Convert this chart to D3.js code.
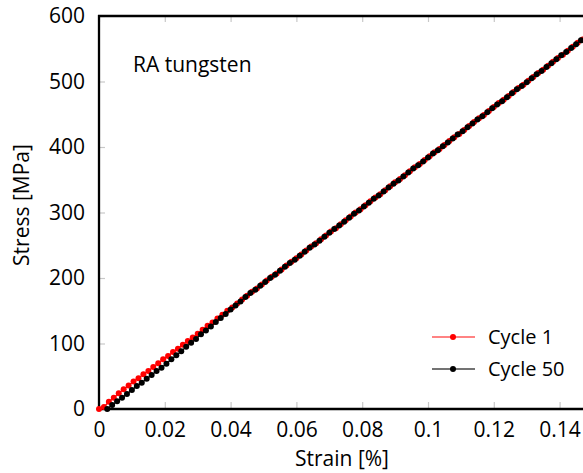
<!DOCTYPE html>
<html>
<head>
<meta charset="utf-8">
<script src="https://cdn.jsdelivr.net/npm/d3@7"></script>
<style>
  html, body { margin: 0; padding: 0; background: #fff; }
  svg { display: block; }
  text { font-family: "Open Sans", Lato, sans-serif; fill: #000; }
</style>
</head>
<body>
<svg id="chart" width="583" height="473"></svg>
<script>
// ---- data ----
const xTicks = [0, 0.02, 0.04, 0.06, 0.08, 0.1, 0.12, 0.14];
const yTicks = [0, 100, 200, 300, 400, 500, 600];
const seriesNames = ["Cycle 1", "Cycle 50"];

const strainCycle1 = [0, 0.0015, 0.003, 0.0045, 0.006, 0.0075, 0.009, 0.0105, 0.012, 0.0135,
  0.015, 0.0165, 0.018, 0.0195, 0.021, 0.0225, 0.024, 0.0255, 0.027, 0.0285,
  0.03, 0.0315, 0.033, 0.0345, 0.036, 0.0375, 0.039, 0.0405, 0.042, 0.0435,
  0.045, 0.0465, 0.048, 0.0495, 0.051, 0.0525, 0.054, 0.0555, 0.057, 0.0585,
  0.06, 0.0615, 0.063, 0.0645, 0.066, 0.0675, 0.069, 0.0705, 0.072, 0.0735,
  0.075, 0.0765, 0.078, 0.0795, 0.081, 0.0825, 0.084, 0.0855, 0.087, 0.0885,
  0.09, 0.0915, 0.093, 0.0945, 0.096, 0.0975, 0.099, 0.1005, 0.102, 0.1035,
  0.105, 0.1065, 0.108, 0.1095, 0.111, 0.1125, 0.114, 0.1155, 0.117, 0.1185,
  0.12, 0.1215, 0.123, 0.1245, 0.126, 0.1275, 0.129, 0.1305, 0.132, 0.1335,
  0.135, 0.1365, 0.138, 0.1395, 0.141, 0.1425, 0.144, 0.1455, 0.147, 0.1485];
const stressCycle1 = [0, 3, 11, 17, 24, 30, 36, 42, 47, 53,
  58, 64, 70, 76, 81, 87, 92, 98, 104, 109,
  115, 121, 127, 132, 138, 144, 150, 155, 161, 167,
  173, 179, 184, 190, 196, 202, 207, 213, 219, 225,
  230, 236, 242, 248, 253, 259, 265, 271, 276, 282,
  288, 294, 300, 305, 311, 317, 323, 328, 334, 340,
  346, 351, 357, 363, 369, 374, 380, 386, 392, 397,
  403, 409, 415, 420, 426, 432, 438, 444, 449, 455,
  461, 467, 472, 478, 484, 490, 495, 501, 507, 513,
  518, 524, 530, 536, 541, 547, 553, 559, 564, 570];

const strainCycle50 = [0.0025, 0.004, 0.0055, 0.007, 0.0085, 0.01, 0.0115, 0.013, 0.0145, 0.016,
  0.0175, 0.019, 0.0205, 0.022, 0.0235, 0.025, 0.0265, 0.028, 0.0295, 0.031,
  0.0325, 0.034, 0.0355, 0.037, 0.0385, 0.04, 0.0415, 0.043, 0.0445, 0.046,
  0.0475, 0.049, 0.0505, 0.052, 0.0535, 0.055, 0.0565, 0.058, 0.0595, 0.061,
  0.0625, 0.064, 0.0655, 0.067, 0.0685, 0.07, 0.0715, 0.073, 0.0745, 0.076,
  0.0775, 0.079, 0.0805, 0.082, 0.0835, 0.085, 0.0865, 0.088, 0.0895, 0.091,
  0.0925, 0.094, 0.0955, 0.097, 0.0985, 0.1, 0.1015, 0.103, 0.1045, 0.106,
  0.1075, 0.109, 0.1105, 0.112, 0.1135, 0.115, 0.1165, 0.118, 0.1195, 0.121,
  0.1225, 0.124, 0.1255, 0.127, 0.1285, 0.13, 0.1315, 0.133, 0.1345, 0.136,
  0.1375, 0.139, 0.1405, 0.142, 0.1435, 0.145, 0.1465, 0.148, 0.1495];
const stressCycle50 = [0, 6, 12, 17, 23, 29, 35, 40, 46, 52,
  58, 63, 69, 76, 82, 88, 95, 101, 107, 114,
  120, 126, 133, 139, 145, 152, 158, 164, 171, 177,
  182, 188, 194, 200, 205, 211, 217, 223, 228, 234,
  240, 246, 251, 257, 263, 269, 275, 280, 286, 292,
  298, 303, 309, 315, 321, 326, 332, 338, 344, 349,
  355, 361, 367, 372, 378, 384, 390, 395, 401, 407,
  413, 419, 424, 430, 436, 442, 447, 453, 459, 465,
  470, 476, 482, 488, 493, 499, 505, 511, 516, 522,
  528, 534, 540, 545, 551, 557, 563, 568, 574];

const seriesColors = ["#ff0000", "#000000"];
const legendLineColors = ["#ff5a5a", "#444444"];

// ---- layout ----
const svg = d3.select("#chart");
const L = 99, T = 16, B = 409, R = 592.5;
const FS = 21;

const x = d3.scaleLinear().domain([0, 0.15]).range([L, R]);
const y = d3.scaleLinear().domain([0, 600]).range([B, T]);

// inward gray ticks
const tickColor = "#c8c8c8";
svg.append("g").attr("transform", `translate(0,${B})`)
  .call(d3.axisTop(x).tickValues(xTicks).tickSize(7).tickFormat(""))
  .call(g => g.select(".domain").remove())
  .call(g => g.selectAll("line").attr("stroke", tickColor).attr("stroke-width", 1.2));
svg.append("g").attr("transform", `translate(0,${T})`)
  .call(d3.axisBottom(x).tickValues(xTicks).tickSize(6).tickFormat(""))
  .call(g => g.select(".domain").remove())
  .call(g => g.selectAll("line").attr("stroke", tickColor).attr("stroke-width", 1.2));
svg.append("g").attr("transform", `translate(${L},0)`)
  .call(d3.axisRight(y).tickValues(yTicks).tickSize(6).tickFormat(""))
  .call(g => g.select(".domain").remove())
  .call(g => g.selectAll("line").attr("stroke", tickColor).attr("stroke-width", 1.2));

// tick labels
const xLab = svg.append("g").attr("transform", `translate(0,${B})`)
  .call(d3.axisBottom(x).tickValues(xTicks).tickSize(0).tickPadding(28).tickFormat(d => d3.format("")(d)));
xLab.select(".domain").remove();
xLab.selectAll("text").attr("font-size", FS).attr("font-family", "'Open Sans', sans-serif").attr("fill", "#000").attr("dy", "0em");

const yLab = svg.append("g").attr("transform", `translate(${L},0)`)
  .call(d3.axisLeft(y).tickValues(yTicks).tickSize(0).tickPadding(14).tickFormat(d3.format("d")));
yLab.select(".domain").remove();
yLab.selectAll("text").attr("font-size", FS).attr("font-family", "'Open Sans', sans-serif").attr("fill", "#000");

// frame lines
svg.append("line").attr("x1", L).attr("x2", L).attr("y1", T - 1).attr("y2", B + 1)
  .attr("stroke", "#000").attr("stroke-width", 2.3);
svg.append("line").attr("x1", L - 1).attr("x2", 583).attr("y1", B).attr("y2", B)
  .attr("stroke", "#000").attr("stroke-width", 2.3);
svg.append("line").attr("x1", L - 1).attr("x2", 583).attr("y1", T).attr("y2", T)
  .attr("stroke", "#000").attr("stroke-width", 2.3);

// series
const series = [
  { name: seriesNames[0], xs: strainCycle1, ys: stressCycle1, color: seriesColors[0] },
  { name: seriesNames[1], xs: strainCycle50, ys: stressCycle50, color: seriesColors[1] }
];
const line = d3.line().x(d => x(d[0])).y(d => y(d[1]));
series.forEach(s => {
  const pts = s.xs.map((v, i) => [v, s.ys[i]]);
  svg.append("path").datum(pts).attr("d", line)
    .attr("fill", "none").attr("stroke", s.color).attr("stroke-width", 1.2);
  svg.append("g").selectAll("circle").data(pts).join("circle")
    .attr("cx", d => x(d[0])).attr("cy", d => y(d[1])).attr("r", 3)
    .attr("fill", s.color);
});

// annotation
svg.append("text").attr("x", 133).attr("y", 72).attr("font-size", FS).text("RA tungsten");

// legend
const lg = svg.append("g");
seriesNames.forEach((n, i) => {
  const ly = 337 + i * 32;
  lg.append("line").attr("x1", 432).attr("x2", 475).attr("y1", ly).attr("y2", ly)
    .attr("stroke", legendLineColors[i]).attr("stroke-width", 1.3);
  lg.append("circle").attr("cx", 453).attr("cy", ly).attr("r", 3).attr("fill", seriesColors[i]);
  lg.append("text").attr("x", 488).attr("y", ly).attr("dy", "0.35em").attr("font-size", 20).text(n);
});

// axis titles
svg.append("text").attr("x", 342).attr("y", 466).attr("text-anchor", "middle")
  .attr("font-size", FS).text("Strain [%]");
svg.append("text").attr("transform", "translate(29,205) rotate(-90)")
  .attr("text-anchor", "middle").attr("font-size", FS).text("Stress [MPa]");
</script>
</body>
</html>
